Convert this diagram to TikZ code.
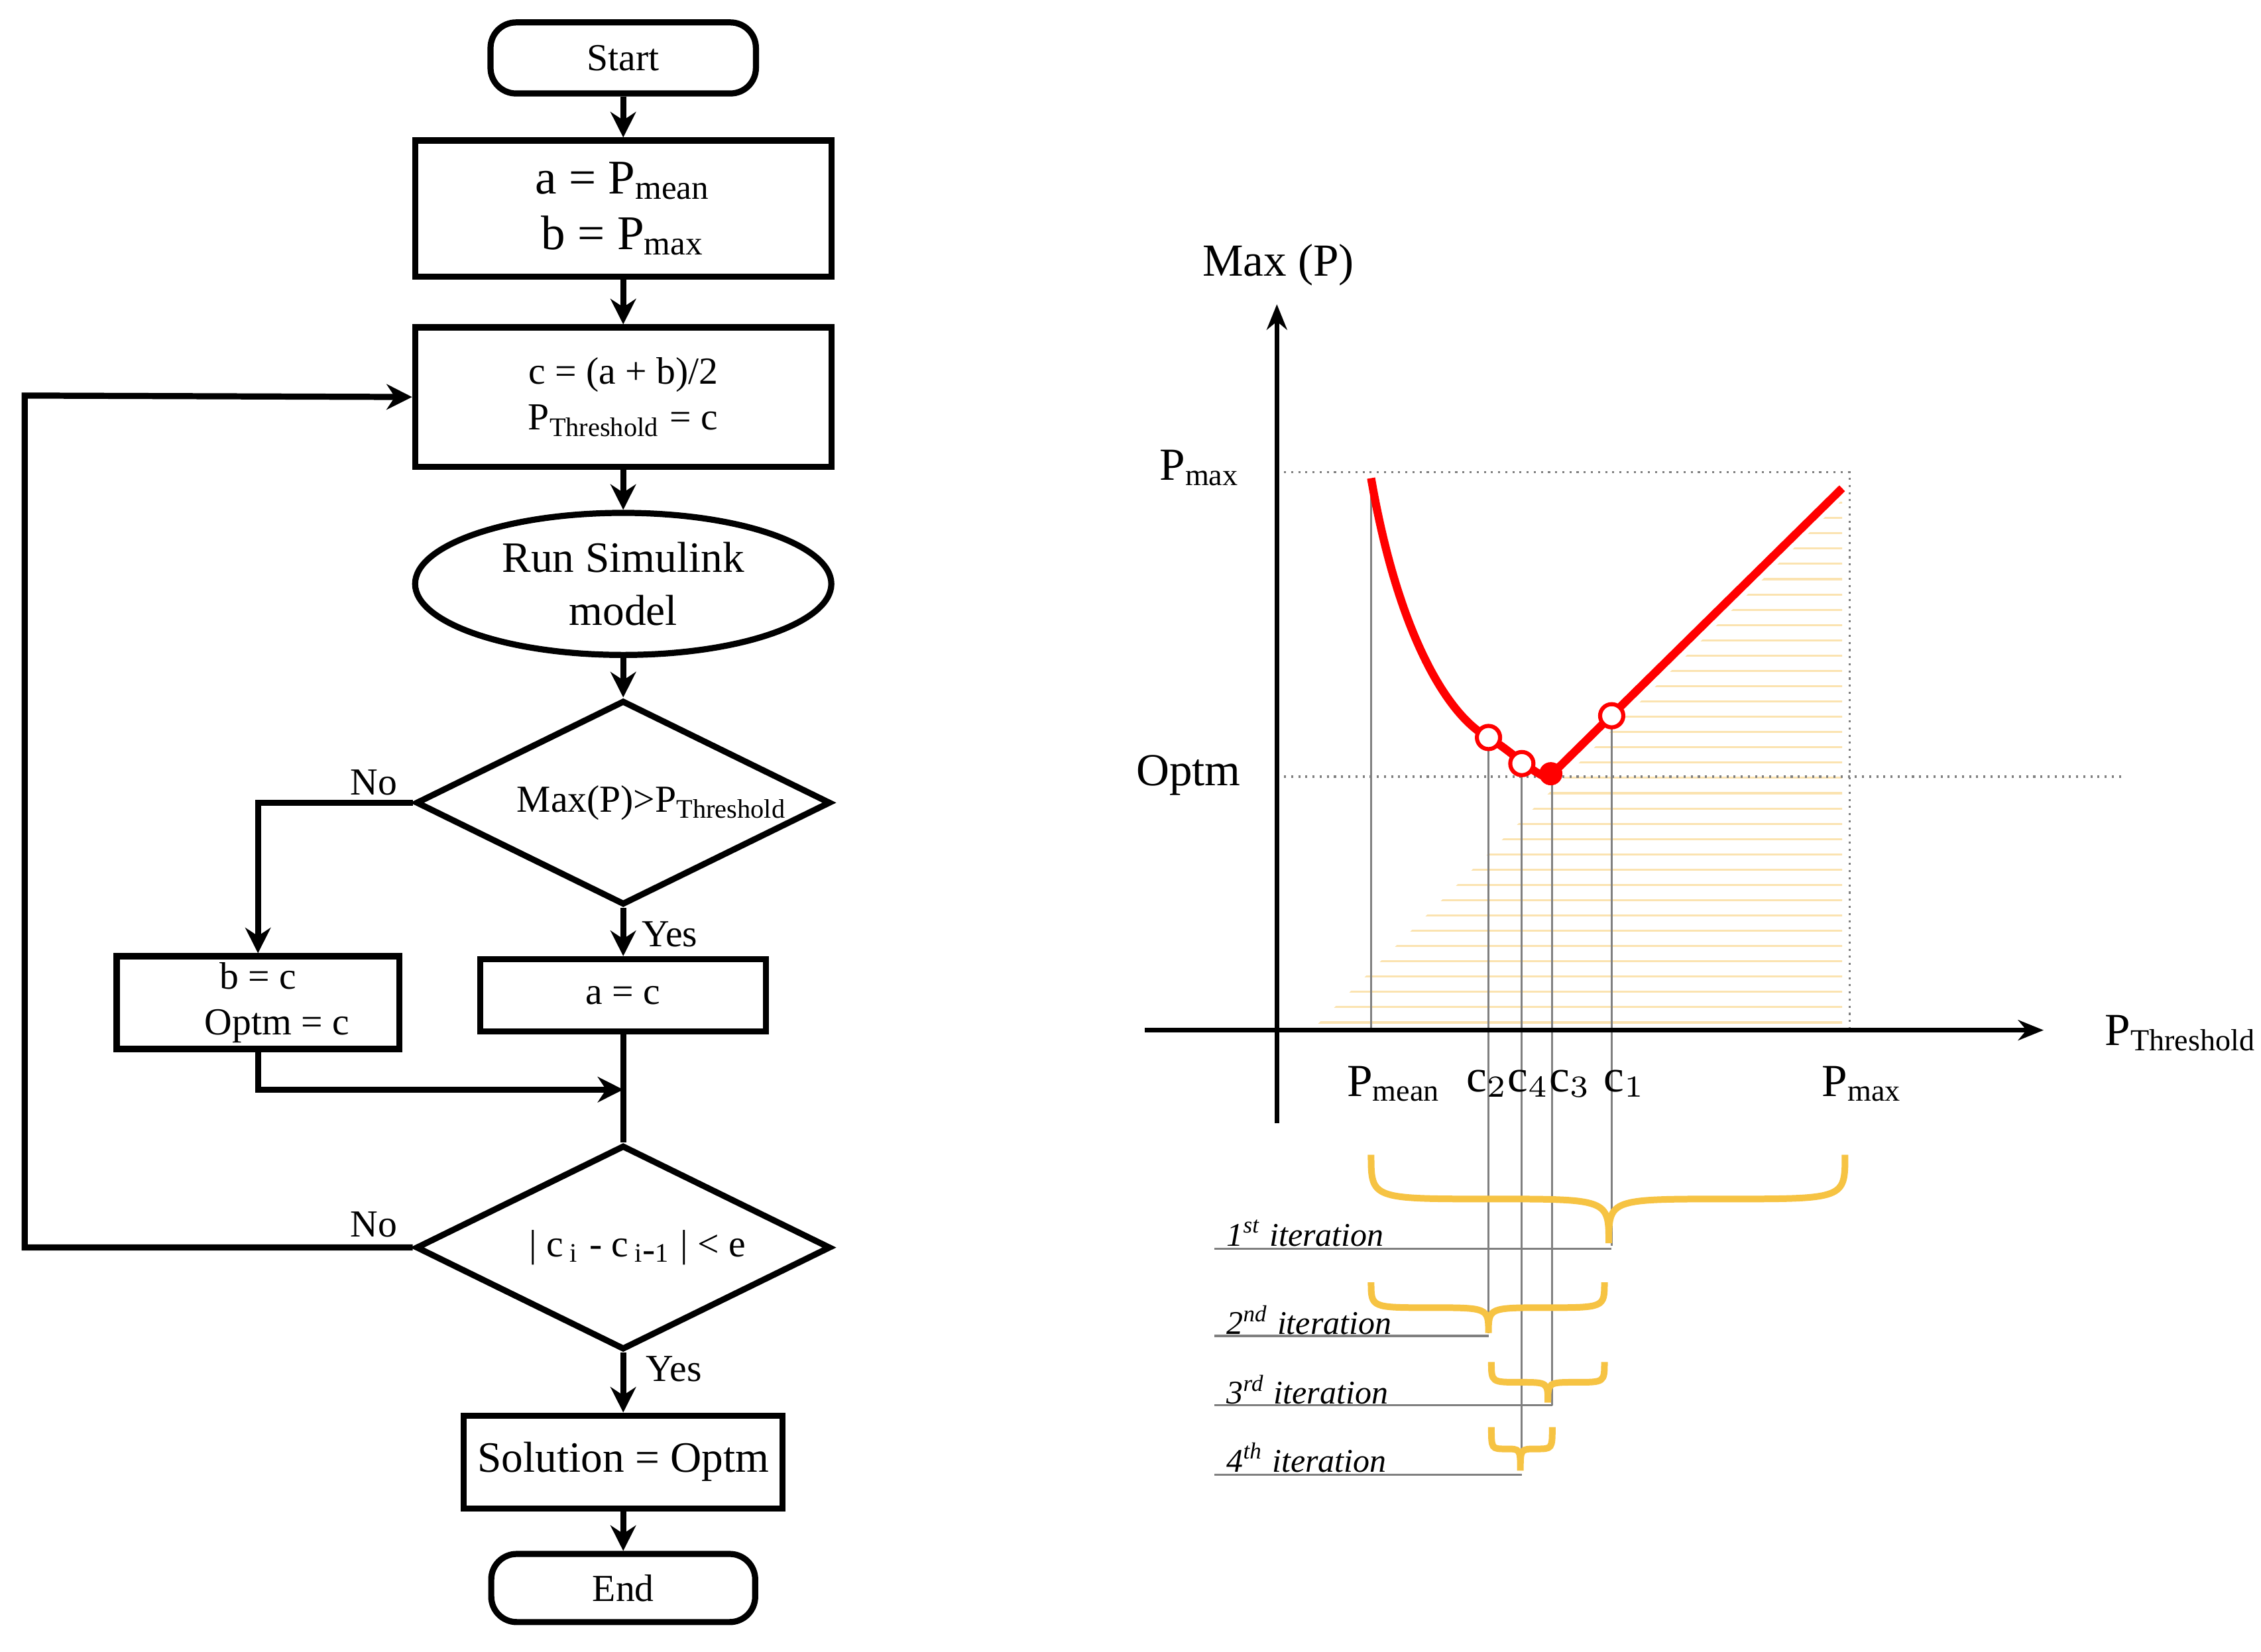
\documentclass[tikz,border=0pt]{standalone}
\usepackage{fontspec}
\setmainfont{Liberation Serif}
\usetikzlibrary{shapes.geometric,arrows.meta,patterns}
\definecolor{braceY}{HTML}{F6C343}
\definecolor{stripe}{HTML}{FBE3B0}
\newcommand\ibrace[5]{% x0 xt x1 ytop ytip
  \draw[braceY,line width=1.3pt]
    (#1,#4) .. controls (#1,{(#4+#5)/2}) and (#1,{(#4+#5)/2}) .. ({(#1+#2)/2},{(#4+#5)/2})
    .. controls (#2,{(#4+#5)/2}) and (#2,{(#4+#5)/2}) .. (#2,#5)
    (#3,#4) .. controls (#3,{(#4+#5)/2}) and (#3,{(#4+#5)/2}) .. ({(#3+#2)/2},{(#4+#5)/2})
    .. controls (#2,{(#4+#5)/2}) and (#2,{(#4+#5)/2}) .. (#2,#5);}
\begin{document}
\begin{tikzpicture}[x=0.01cm,y=-0.01cm,
  fc/.style={draw,line width=1.2pt,align=center,inner sep=1pt,font=\fontsize{7.5}{9}\selectfont},
  ar/.style={line width=1.2pt,-{Stealth[length=5pt,width=5pt]}},
  ln/.style={line width=1.2pt},
  lab/.style={font=\fontsize{7.5}{9}\selectfont},
  thin/.style={draw=gray,line width=0.4pt},
  dot/.style={draw=gray,line width=0.4pt,densely dotted}]
\useasboundingbox (0,0) rectangle (1560,1140);
% flowchart
\node[fc,rounded corners=5pt,minimum width=1.83cm,minimum height=0.49cm] (start) at (430,40) {Start};
\node[fc,minimum width=2.87cm,minimum height=0.94cm,font=\fontsize{9.5}{11}\selectfont] (b1) at (430,144) {a = P$_{\mathrm{mean}}$\\b = P$_{\mathrm{max}}$};
\node[fc,minimum width=2.87cm,minimum height=0.96cm] (b2) at (430,274) {c = (a + b)/2\\P$_{\mathrm{Threshold}}$ = c};
\node[fc,ellipse,minimum width=2.87cm,minimum height=0.98cm,font=\fontsize{8.5}{10.5}\selectfont] (sim) at (430,403) {Run Simulink\\model};
\node[fc,diamond,aspect=2.03,minimum width=2.86cm,minimum height=1.41cm,inner sep=0pt] (d1) at (430,554) {};
\node[lab] at (450,554) {Max(P)>P$_{\mathrm{Threshold}}$};
\node[fc,minimum width=1.95cm,minimum height=0.64cm] (bc) at (178,692) {b = c\\\quad Optm = c};
\node[fc,minimum width=1.97cm,minimum height=0.50cm] (ac) at (430,687) {a = c};
\node[fc,diamond,aspect=2.03,minimum width=2.86cm,minimum height=1.41cm,inner sep=0pt] (d2) at (430,861) {};
\node[lab] at (440,861) {| c$_{\,\mathrm{i}}$ - c$_{\,\mathrm{i}\mbox{-}\mathrm{1}}$ | < e};
\node[fc,minimum width=2.2cm,minimum height=0.64cm,font=\fontsize{8.5}{10}\selectfont] (sol) at (430,1009) {Solution = Optm};
\node[fc,rounded corners=5pt,minimum width=1.82cm,minimum height=0.47cm] (end) at (430,1096) {End};
\coordinate (j) at (430,752);
\draw[ar] (start) -- (b1);
\draw[ar] (b1) -- (b2);
\draw[ar] (b2) -- (sim);
\draw[ar] (sim) -- (d1);
\draw[ar] (d1.south) -- (ac.north);
\draw[ar] (d1.west) -| (bc.north);
\draw[ar] (bc.south) |- (j);
\draw[ln] (ac.south) -- (d2.north);
\draw[ar] (d2.west) -- (17,861) -- (17,273) -- (b2.west);
\draw[ar] (d2.south) -- (sol.north);
\draw[ar] (sol) -- (end);
\node[lab] at (258,540) {No};
\node[lab] at (462,645) {Yes};
\node[lab] at (258,845) {No};
\node[lab] at (465,945) {Yes};
% chart
\fill[pattern={horizontal lines},pattern color=stripe] (905,711) -- (1271,345) -- (1271,711) -- cycle;
\draw[dot] (881,326) -- (1276,326) -- (1276,711);
\draw[dot] (881,536) -- (1465,536);
\draw[thin] (946,330) -- (946,711);
\draw[thin] (1027,510) -- (1027,920);
\draw[thin] (1050,528) -- (1050,1015);
\draw[thin] (1071,536) -- (1071,970);
\draw[thin] (1112,494) -- (1112,860);
\draw[thin] (838,862) -- (1112,862);
\draw[thin] (838,922) -- (1027,922);
\draw[thin] (838,970) -- (1071,970);
\draw[thin] (838,1018) -- (1050,1018);
\coordinate (o) at (881,775);
\coordinate (yt) at (881,210);
\coordinate (xl) at (790,711);
\coordinate (xr) at (1410,711);
\draw[line width=1pt,-{Stealth[length=5pt,width=4pt]}] (o) -- (yt);
\draw[line width=1pt,-{Stealth[length=5pt,width=4pt]}] (xl) -- (xr);
\draw[red,line width=1.6pt] (946,330) .. controls (965,440) and (1000,495) .. (1027,509) .. controls (1045,520) and (1055,532) .. (1068,537) -- (1271,337);
\foreach \p in {(1027,509),(1050,527),(1112,494)} \draw[red,fill=white,line width=0.8pt] \p circle (8);
\fill[red] (1070,534) circle (8);
\begin{scope}[font=\fontsize{9}{11}\selectfont]
\node at (882,183) {Max (P)};
\node[anchor=west] at (1440,713) {P$_{\mathrm{Threshold}}$};
\node at (828,323) {P$_{\mathrm{max}}$};
\node at (820,535) {Optm};
\node at (962,748) {P$_{\mathrm{mean}}$};
\node at (1026,748) {c$_2$};
\node at (1069,748) {c$_4$c$_3$};
\node at (1121,748) {c$_1$};
\node at (1285,748) {P$_{\mathrm{max}}$};
\end{scope}
\ibrace{946}{1110}{1273}{797}{858}
\ibrace{946}{1027}{1107}{885}{920}
\ibrace{1029}{1068}{1107}{940}{968}
\ibrace{1029}{1049}{1071}{985}{1015}
\begin{scope}[font=\itshape\fontsize{6.5}{8}\selectfont,anchor=west]
\node at (834,851) {1\textsuperscript{st} iteration};
\node at (834,911) {2\textsuperscript{nd} iteration};
\node at (834,959) {3\textsuperscript{rd} iteration};
\node at (834,1006) {4\textsuperscript{th} iteration};
\end{scope}
\end{tikzpicture}
\end{document}
